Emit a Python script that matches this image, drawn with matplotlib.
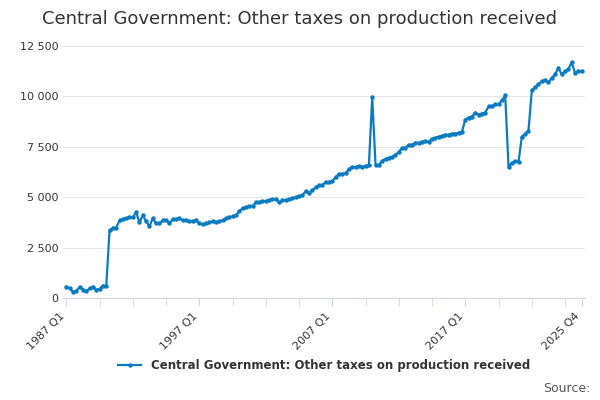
import numpy as np
import matplotlib.pyplot as plt

values = [
    550, 480, 300, 350,  550, 420, 330, 480,  560, 400, 450, 620,
    580, 3350, 3480, 3480,  3850, 3900, 3950, 4000,  4000, 4250, 3750, 4100,
    3800, 3550, 3950, 3700,  3700, 3850, 3850, 3700,  3900, 3900, 3950, 3850,
    3850, 3800, 3800, 3850,  3700, 3650, 3700, 3750,  3800, 3750, 3800, 3850,
    3950, 4000, 4050, 4100,  4300, 4450, 4500, 4550,  4550, 4750, 4750, 4800,
    4800, 4850, 4900, 4900,  4750, 4850, 4850, 4900,  4950, 5000, 5050, 5100,
    5300, 5200, 5350, 5500,  5600, 5600, 5750, 5750,  5800, 6000, 6150, 6150,
    6200, 6400, 6500, 6500,  6550, 6500, 6550, 6600,  9950, 6600, 6600, 6800,
    6900, 6950, 7000, 7100,  7250, 7450, 7450, 7600,  7600, 7700, 7700, 7750,
    7800, 7750, 7900, 7950,  8000, 8050, 8100, 8100,  8150, 8150, 8200, 8250,
    8850, 8950, 9000, 9200,  9100, 9150, 9200, 9500,  9500, 9600, 9600, 9800,
    10050, 6500, 6700, 6800,  6750, 8000, 8150, 8300,  10300, 10450, 10600, 10750,
    10800, 10700, 10900, 11100,  11400, 11100, 11250, 11350,  11700, 11150, 11250, 11250,
]
tick_pos = [0, 40, 80, 120, 155]
tick_labels = ["1987 Q1", "1997 Q1", "2007 Q1", "2017 Q1", "2025 Q4"]
series_name = "Central Government: Other taxes on production received"

x = np.arange(len(values))
fig, ax = plt.subplots(figsize=(6, 4), dpi=100)
fig.subplots_adjust(left=0.105, right=0.975, top=0.885, bottom=0.255)
ax.plot(x, values, color="#0a7bc1", lw=1.6, marker="o", ms=2.2, label=series_name)
ax.set_xlim(-1, 156)
ax.set_ylim(0, 12500)
ax.set_yticks(range(0, 12501, 2500))
ax.set_yticklabels([f"{v:,}".replace(",", " ") for v in range(0, 12501, 2500)], fontsize=8, color="#333333")
ax.set_xticks(np.arange(0, 156, 10), minor=True)
ax.set_xticks(tick_pos)
ax.set_xticklabels(tick_labels, rotation=45, ha="right", fontsize=8, color="#333333")
ax.tick_params(axis="x", which="both", length=6, color="#ccd6eb")
ax.tick_params(axis="y", length=0)
ax.grid(axis="y", color="#e6e6e6", lw=0.8)
for s in ["top", "right", "left"]:
    ax.spines[s].set_visible(False)
ax.spines["bottom"].set_color("#ccd6eb")
fig.suptitle("Central Government: Other taxes on production received", fontsize=13,
             y=0.975, color="#333333", fontweight="medium")
ax.legend(loc="upper center", bbox_to_anchor=(0.5, -0.2), frameon=False,
          prop={"size": 8.5, "weight": "bold"}, labelcolor="#333333")
fig.text(0.985, 0.02, "Source:", ha="right", fontsize=9, color="#555555")
fig.savefig("out.png")
